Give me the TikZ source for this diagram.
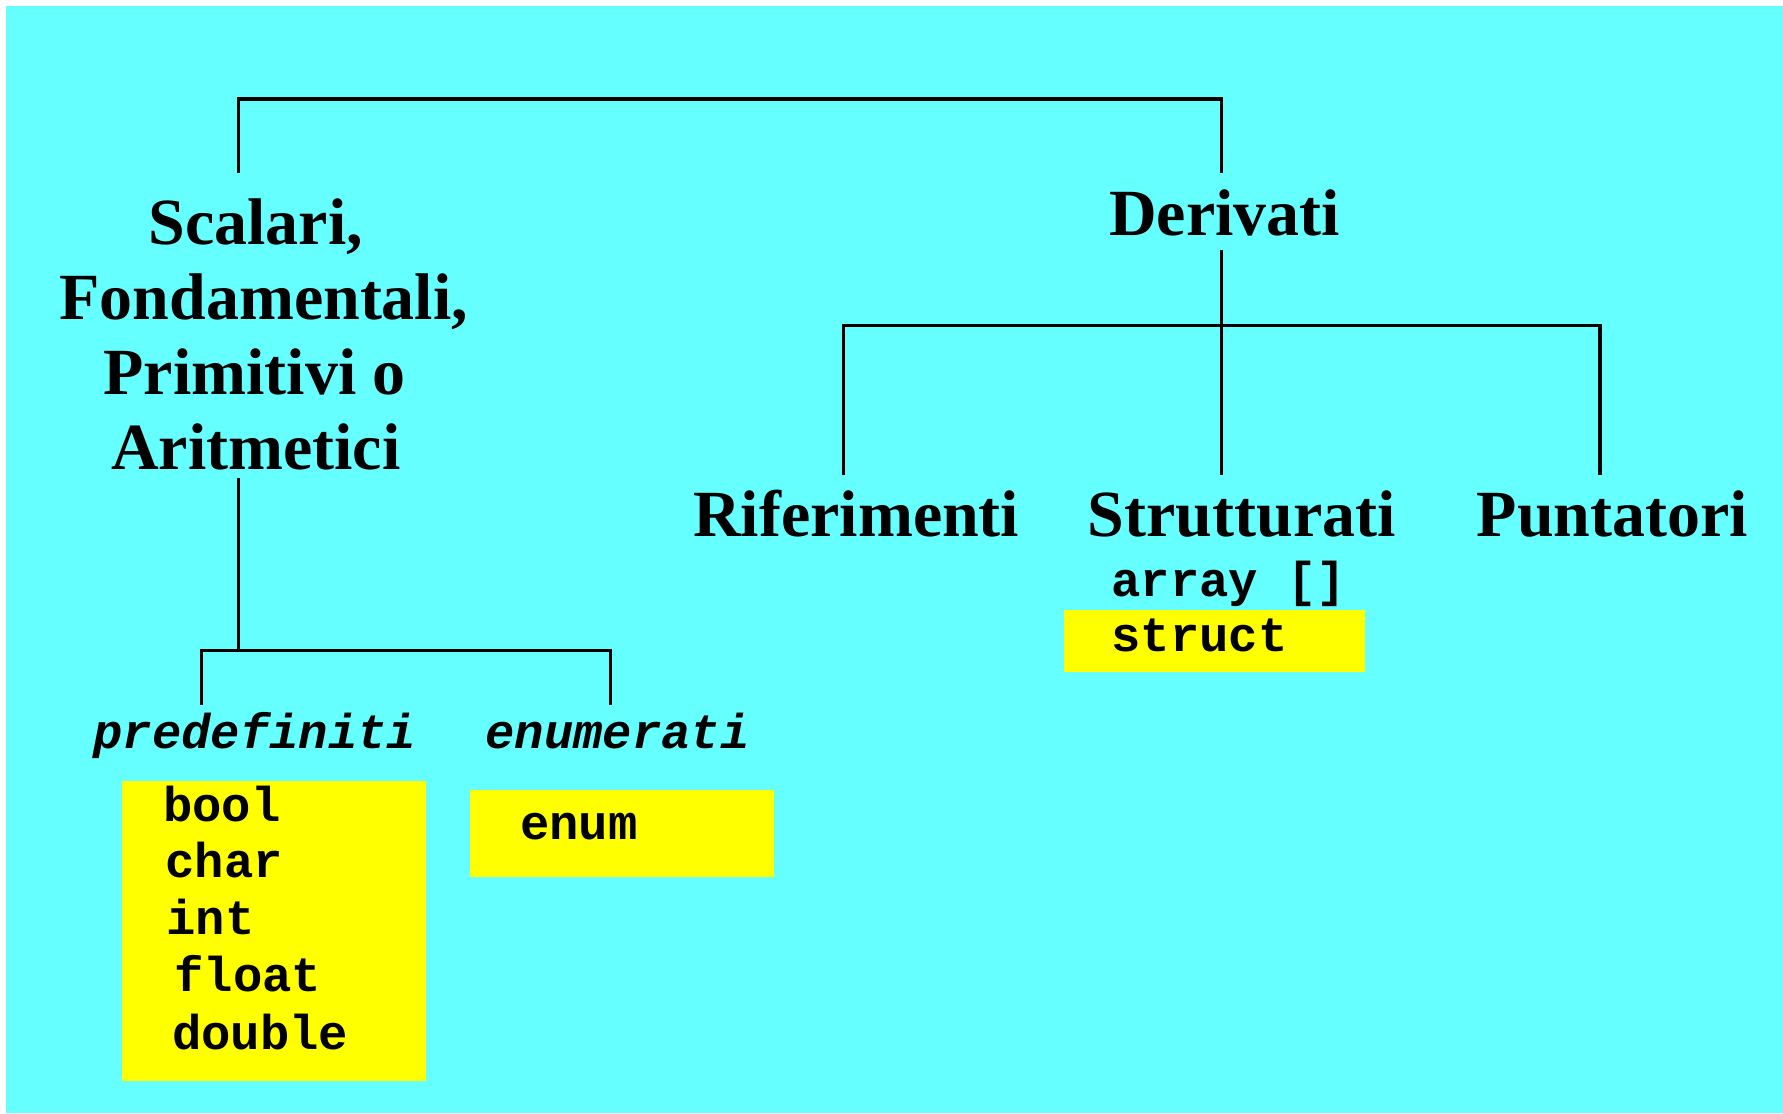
\documentclass[tikz,border=0pt]{standalone}
\usepackage{fontspec}
\setmainfont{Liberation Serif}
\setmonofont{Liberation Mono}
\definecolor{bgcyan}{HTML}{66FFFF}
\definecolor{boxyellow}{HTML}{FFFF00}
\begin{document}
\begin{tikzpicture}[x=0.5pt,y=-0.5pt,
  conn/.style={line width=1.4pt, black},
  head/.style={font=\fontsize{29}{33}\selectfont\bfseries, inner sep=0pt, anchor=base},
  code/.style={font=\fontsize{21.5}{25}\selectfont\ttfamily\bfseries, inner sep=0pt, anchor=base west},
  codeit/.style={font=\fontsize{21.5}{25}\selectfont\ttfamily\bfseries\itshape, inner sep=0pt, anchor=base},
  ybox/.style={fill=boxyellow, draw=none, inner sep=0pt, anchor=north west}]
\useasboundingbox (0,0) rectangle (1568,979);
\fill[white] (0,0) rectangle (1568,979);
\fill[bgcyan] (5,5) rectangle (1568,979);

% top junction
\coordinate (tl) at (210,87);
\coordinate (tr) at (1074,87);
\coordinate (sTop) at (210,152);
\coordinate (dTop) at (1074,152);
\draw[conn] (sTop) -- (tl) -- (tr) -- (dTop);

% left branch
\node[head] (s1) at (225,215) {Scalari,};
\node[head] (s2) at (232,281) {Fondamentali,};
\node[head] (s3) at (224,347) {Primitivi o};
\node[head] (s4) at (225,413) {Aritmetici};
\coordinate (sBot) at (210,420);
\coordinate (lj) at (210,572);
\coordinate (lja) at (177,572);
\coordinate (ljb) at (537,572);
\coordinate (pTop) at (177,620);
\coordinate (eTop) at (537,620);
\draw[conn] (sBot) -- (lj);
\draw[conn] (pTop) -- (lja) -- (ljb) -- (eTop);

\node[codeit] (pre) at (224,658) {predefiniti};
\node[codeit] (enu) at (543,658) {enumerati};

\node[ybox, minimum width=267*0.5pt, minimum height=264*0.5pt] (b1) at (107,686) {};
\node[code] (bool) at (143,722) {bool};
\node[code] (char) at (145,772) {char};
\node[code] (int) at (146,822) {int};
\node[code] (float) at (153,872) {float};
\node[code] (double) at (151,923) {double};

\node[ybox, minimum width=267*0.5pt, minimum height=77*0.5pt] (b2) at (413,694) {};
\node[code] (enum) at (457,738) {enum};

% right branch
\node[head] (der) at (1077,207) {Derivati};
\coordinate (dBot) at (1074,220);
\coordinate (rj) at (1074,286);
\coordinate (rja) at (742,286);
\coordinate (rjb) at (1407,286);
\coordinate (rifTop) at (742,418);
\coordinate (strTop) at (1074,418);
\coordinate (punTop) at (1407,418);
\draw[conn] (dBot) -- (strTop);
\draw[conn] (rifTop) -- (rja) -- (rjb) -- (punTop);

\node[head] (rif) at (753,472) {Riferimenti};
\node[head] (str) at (1092,472) {Strutturati};
\node[head] (pun) at (1418,472) {Puntatori};

\node[code] (arr) at (977,525) {array []};
\node[ybox, minimum width=265*0.5pt, minimum height=55*0.5pt] (b3) at (935,536) {};
\node[code] (struct) at (977,573) {struct};
\end{tikzpicture}
\end{document}
